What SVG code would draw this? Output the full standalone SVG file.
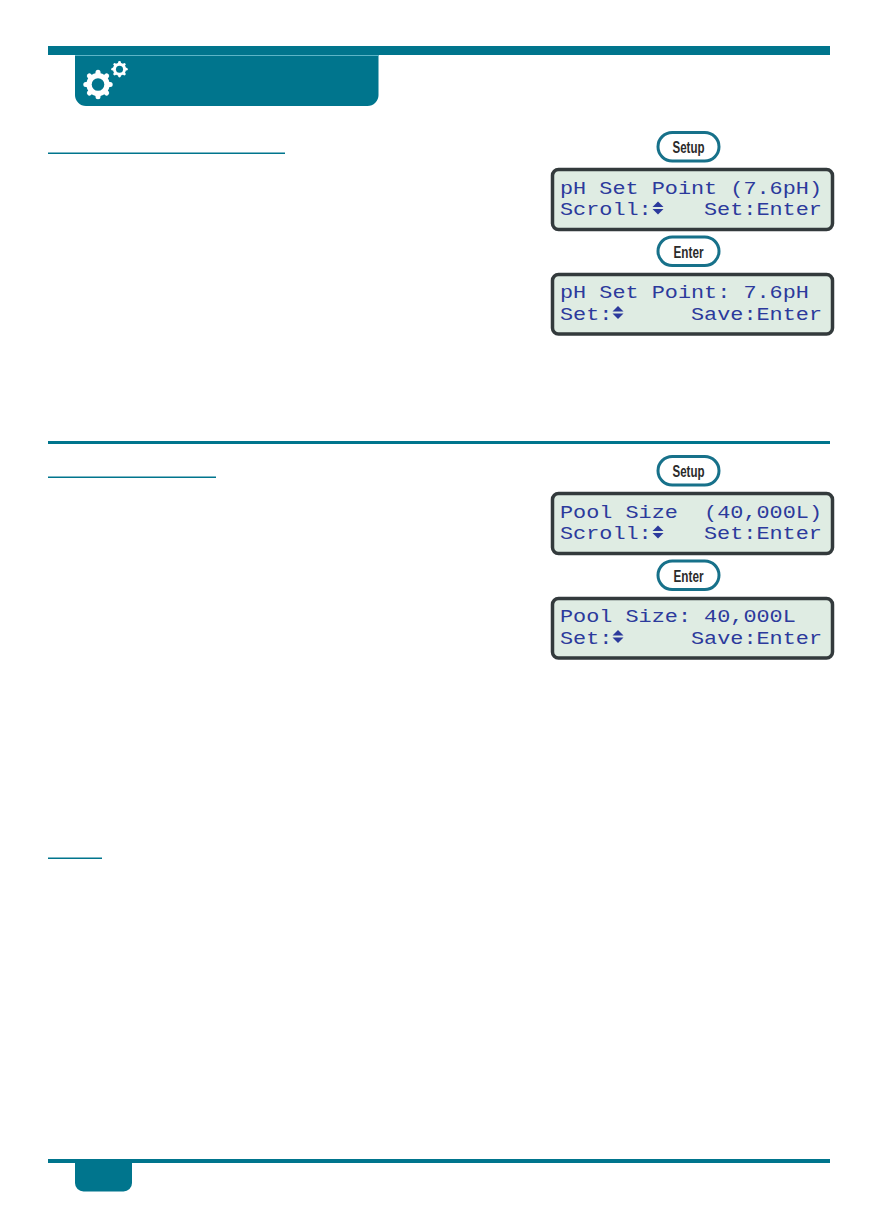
<svg xmlns="http://www.w3.org/2000/svg" xmlns:xlink="http://www.w3.org/1999/xlink" width="878" height="1227" viewBox="0 0 878 1227">
<style>
.teal{fill:#00758d}
.ul{fill:#00758d}
.lcd{fill:#dfece3;stroke:#333a3c;stroke-width:3.5}
.btn{fill:#fff;stroke:#17718a;stroke-width:3}
.bt{font-family:"Liberation Sans",Arial,sans-serif;font-weight:700;font-size:16.500px;fill:#2b2b2b;text-anchor:middle}
.lt{font-family:"Liberation Mono","Courier New",monospace;font-size:18.900px;fill:#2c3a9c;white-space:pre}
.ar{fill:#2c3a9c}
</style>
<defs>
<g id="gear">
<g stroke="#fff" stroke-width="5" stroke-linecap="round">
<line x1="0" y1="-12.200" x2="0" y2="12.200"/>
<line x1="-12.200" y1="0" x2="12.200" y2="0"/>
<line x1="-8.600" y1="-8.600" x2="8.600" y2="8.600"/>
<line x1="-8.600" y1="8.600" x2="8.600" y2="-8.600"/>
</g>
<circle r="11.600" fill="#fff"/>
<circle r="6.300" fill="#00758d"/>
</g>
<g id="arrows">
<polygon class="ar" points="0,-6.500 5.500,-1 -5.500,-1"/>
<polygon class="ar" points="0,6.500 5.500,1 -5.500,1"/>
</g>
</defs>
<rect width="878" height="1227" fill="#fff"/>
<g id="header">
<rect class="teal" x="48" y="46" width="782" height="9"/>
<path class="teal" d="M75 55H378.500V95a11 11 0 0 1-11 11H86A11 11 0 0 1 75 95Z"/>
<rect x="75" y="55" width="303.500" height="1" fill="#5db5c7"/>
<use xlink:href="#gear" href="#gear" transform="translate(98 84.500)"/>
<use xlink:href="#gear" href="#gear" transform="translate(119.500 69.200) scale(.56)"/>
</g>
<g id="rules">
<rect class="ul" x="48" y="152.500" width="237" height="1.500"/>
<rect class="teal" x="48" y="441" width="782" height="3"/>
<rect class="ul" x="48" y="476.500" width="168" height="1.500"/>
<rect class="ul" x="48" y="857.500" width="54" height="1.500"/>
</g>
<g id="footer">
<rect class="teal" x="48" y="1159" width="782" height="4"/>
<path class="teal" d="M75 1163H132V1183a8.500 8.500 0 0 1-8.500 8.500H83.500A8.500 8.500 0 0 1 75 1183Z"/>
</g>
<g id="btn-setup-1">
<rect class="btn" x="658" y="132.500" width="61" height="28.500" rx="14.250"/>
<text class="bt" x="688.500" y="153" textLength="32" lengthAdjust="spacingAndGlyphs">Setup</text>
</g>
<g id="lcd-1">
<rect class="lcd" x="552.500" y="169.500" width="280" height="60" rx="6"/>
<text class="lt" x="560" y="193.500" textLength="262" lengthAdjust="spacingAndGlyphs">pH Set Point (7.6pH)</text>
<text class="lt" x="560" y="215" textLength="91.700" lengthAdjust="spacingAndGlyphs">Scroll:</text>
<use xlink:href="#arrows" href="#arrows" x="658" y="208"/>
<text class="lt" x="704" y="215" textLength="117.900" lengthAdjust="spacingAndGlyphs">Set:Enter</text>
</g>
<g id="btn-enter-1">
<rect class="btn" x="658" y="237" width="61" height="28.500" rx="14.250"/>
<text class="bt" x="688.500" y="257.500" textLength="30" lengthAdjust="spacingAndGlyphs">Enter</text>
</g>
<g id="lcd-2">
<rect class="lcd" x="552.500" y="274.500" width="280" height="59.500" rx="6"/>
<text class="lt" x="560" y="298" textLength="248.900" lengthAdjust="spacingAndGlyphs">pH Set Point: 7.6pH</text>
<text class="lt" x="560" y="319.500" textLength="52.400" lengthAdjust="spacingAndGlyphs">Set:</text>
<use xlink:href="#arrows" href="#arrows" x="618" y="312.500"/>
<text class="lt" x="691" y="319.500" textLength="131" lengthAdjust="spacingAndGlyphs">Save:Enter</text>
</g>
<g id="btn-setup-2">
<rect class="btn" x="658" y="456.500" width="61" height="28.500" rx="14.250"/>
<text class="bt" x="688.500" y="477" textLength="32" lengthAdjust="spacingAndGlyphs">Setup</text>
</g>
<g id="lcd-3">
<rect class="lcd" x="552.500" y="493.500" width="280" height="60" rx="6"/>
<text class="lt" x="560" y="517.500" textLength="262" lengthAdjust="spacingAndGlyphs">Pool Size  (40,000L)</text>
<text class="lt" x="560" y="539" textLength="91.700" lengthAdjust="spacingAndGlyphs">Scroll:</text>
<use xlink:href="#arrows" href="#arrows" x="658" y="532"/>
<text class="lt" x="704" y="539" textLength="117.900" lengthAdjust="spacingAndGlyphs">Set:Enter</text>
</g>
<g id="btn-enter-2">
<rect class="btn" x="658" y="561" width="61" height="28.500" rx="14.250"/>
<text class="bt" x="688.500" y="581.500" textLength="30" lengthAdjust="spacingAndGlyphs">Enter</text>
</g>
<g id="lcd-4">
<rect class="lcd" x="552.500" y="598.500" width="280" height="59.500" rx="6"/>
<text class="lt" x="560" y="622" textLength="235.800" lengthAdjust="spacingAndGlyphs">Pool Size: 40,000L</text>
<text class="lt" x="560" y="643.500" textLength="52.400" lengthAdjust="spacingAndGlyphs">Set:</text>
<use xlink:href="#arrows" href="#arrows" x="618" y="636.500"/>
<text class="lt" x="691" y="643.500" textLength="131" lengthAdjust="spacingAndGlyphs">Save:Enter</text>
</g>
</svg>
